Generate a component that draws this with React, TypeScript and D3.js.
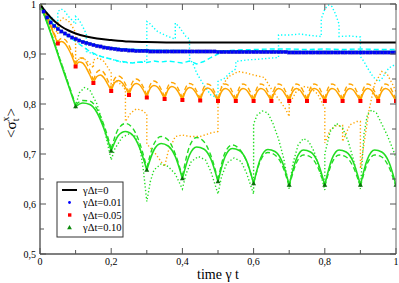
import React from "react";
import * as d3 from "d3";

const W = 399, H = 283;
const X0 = 40, X1 = 396, Y0 = 254, Y1 = 4;

// ---------- axes ----------
const xTicks = [0, 0.2, 0.4, 0.6, 0.8, 1];
const xTickLabels = ["0", "0,2", "0,4", "0,6", "0,8", "1"];
const xMinor = [0.1, 0.3, 0.5, 0.7, 0.9];
const yTicks = [0.5, 0.6, 0.7, 0.8, 0.9, 1];
const yTickLabels = ["0,5", "0,6", "0,7", "0,8", "0,9", "1"];
const yMinor = [0.55, 0.65, 0.75, 0.85, 0.95];
const legendLabels = ["γΔt=0", "γΔt=0.01", "γΔt=0.05", "γΔt=0.10"];

// ---------- γΔt = 0 (black) ----------
const blackT = [0, 0.01, 0.02, 0.03, 0.04, 0.06, 0.08, 0.1, 0.13, 0.16, 0.2, 0.25, 0.3, 0.4, 0.6, 0.8, 1];
const blackV = [1, 0.99, 0.981, 0.973, 0.966, 0.955, 0.947, 0.941, 0.935, 0.931, 0.928, 0.925, 0.924, 0.923, 0.923, 0.923, 0.923];

// ---------- γΔt = 0.01 (blue points, cyan lines) ----------
const blueV = [
  1.0, 0.985, 0.973, 0.963, 0.956, 0.95, 0.945, 0.941, 0.937, 0.933,
  0.93, 0.927, 0.924, 0.922, 0.92, 0.918, 0.916, 0.915, 0.913, 0.912,
  0.911, 0.91, 0.909, 0.908, 0.908, 0.907, 0.907, 0.906, 0.906, 0.906,
  0.906, 0.905, 0.905, 0.905, 0.905, 0.905, 0.905, 0.905, 0.905, 0.905,
  0.905, 0.905, 0.905, 0.905, 0.905, 0.905, 0.905, 0.905, 0.905, 0.905,
  0.904, 0.904, 0.904, 0.904, 0.904, 0.904, 0.904, 0.904, 0.904, 0.904,
  0.904, 0.904, 0.904, 0.904, 0.904, 0.904, 0.904, 0.904, 0.904, 0.904,
  0.903, 0.903, 0.903, 0.903, 0.903, 0.903, 0.903, 0.903, 0.903, 0.903,
  0.903, 0.903, 0.903, 0.903, 0.903, 0.903, 0.903, 0.903, 0.903, 0.903,
  0.903, 0.903, 0.903, 0.903, 0.903, 0.903, 0.903, 0.903, 0.903, 0.903,
  0.903,
];
const cyanSolidT = [0, 0.02, 0.05, 0.1, 0.15, 0.2, 0.3, 0.4, 0.5, 0.6, 0.7, 0.8, 0.9, 1];
const cyanSolidV = [1, 0.974, 0.951, 0.931, 0.919, 0.912, 0.908, 0.907, 0.906, 0.906, 0.905, 0.905, 0.905, 0.905];
const cyanDashT = [0, 0.02, 0.04, 0.06, 0.08, 0.1, 0.12, 0.14, 0.16, 0.18, 0.2, 0.22, 0.24, 0.26, 0.28, 0.3, 0.32, 0.34, 0.36, 0.38, 0.4, 0.42, 0.44, 0.46, 0.48, 0.5, 0.52, 0.55, 0.6, 0.65, 0.7, 0.75, 0.8, 0.85, 0.9, 0.95, 1];
const cyanDashV = [1, 0.975, 0.958, 0.945, 0.935, 0.925, 0.915, 0.905, 0.898, 0.893, 0.89, 0.886, 0.884, 0.882, 0.884, 0.883, 0.886, 0.884, 0.886, 0.884, 0.882, 0.886, 0.88, 0.885, 0.893, 0.9, 0.906, 0.908, 0.909, 0.91, 0.91, 0.909, 0.91, 0.909, 0.91, 0.909, 0.909];
const cyanDotT = [0, 0.01, 0.02, 0.03, 0.04, 0.05, 0.05, 0.06, 0.07, 0.08, 0.09, 0.1, 0.1, 0.11, 0.12, 0.13, 0.13, 0.15, 0.17, 0.2, 0.22, 0.25, 0.28, 0.3, 0.3, 0.31, 0.32, 0.33, 0.35, 0.37, 0.38, 0.38, 0.39, 0.4, 0.41, 0.42, 0.42, 0.43, 0.44, 0.45, 0.46, 0.47, 0.48, 0.49, 0.5, 0.5, 0.52, 0.53, 0.55, 0.55, 0.58, 0.62, 0.65, 0.67, 0.67, 0.7, 0.73, 0.76, 0.79, 0.79, 0.8, 0.81, 0.82, 0.83, 0.84, 0.84, 0.87, 0.9, 0.9, 0.91, 0.92, 0.935, 0.95, 0.96, 0.97, 0.98, 1];
const cyanDotV = [1, 0.99, 0.982, 0.975, 0.968, 0.962, 0.985, 0.99, 0.985, 0.975, 0.968, 0.96, 0.975, 0.968, 0.955, 0.94, 0.905, 0.9, 0.895, 0.89, 0.885, 0.882, 0.884, 0.886, 0.965, 0.96, 0.952, 0.945, 0.938, 0.932, 0.93, 0.962, 0.955, 0.945, 0.935, 0.93, 0.892, 0.88, 0.862, 0.85, 0.838, 0.828, 0.818, 0.815, 0.82, 0.845, 0.852, 0.86, 0.87, 0.885, 0.888, 0.89, 0.892, 0.893, 0.938, 0.938, 0.94, 0.937, 0.935, 0.97, 0.99, 0.998, 0.995, 0.98, 0.96, 0.935, 0.936, 0.934, 0.895, 0.885, 0.872, 0.855, 0.845, 0.85, 0.862, 0.872, 0.88];

// ---------- γΔt = 0.05 (red markers, orange lines), sampled every 0.01 ----------
const redV = [1, 0.921, 0.875, 0.842, 0.826, 0.818, 0.813, 0.81, 0.808, 0.807, 0.806, 0.806, 0.806, 0.806, 0.806, 0.806, 0.806, 0.806, 0.806, 0.806, 0.806];
const orangeSolidV = [
  1, 0.986, 0.971, 0.955, 0.938, 0.921,
  0.925, 0.921, 0.91, 0.895, 0.875,
  0.884, 0.882, 0.872, 0.858, 0.842,
  0.855, 0.858, 0.852, 0.84, 0.826,
  0.843, 0.847, 0.843, 0.833, 0.818,
  0.836, 0.841, 0.838, 0.828, 0.813,
  0.832, 0.837, 0.834, 0.824, 0.81,
  0.829, 0.835, 0.832, 0.822, 0.808,
  0.827, 0.833, 0.83, 0.82, 0.807,
  0.826, 0.832, 0.829, 0.819, 0.806,
  0.825, 0.831, 0.828, 0.818, 0.806,
  0.825, 0.831, 0.828, 0.818, 0.806,
  0.825, 0.831, 0.828, 0.818, 0.806,
  0.825, 0.831, 0.828, 0.818, 0.806,
  0.825, 0.831, 0.828, 0.818, 0.806,
  0.825, 0.831, 0.828, 0.818, 0.806,
  0.825, 0.831, 0.828, 0.818, 0.806,
  0.825, 0.831, 0.828, 0.818, 0.806,
  0.825, 0.831, 0.828, 0.818, 0.806,
  0.825, 0.831, 0.828, 0.818, 0.806,
];
const orangeDashV = [
  1, 0.988, 0.974, 0.958, 0.941, 0.924,
  0.931, 0.929, 0.919, 0.902, 0.879,
  0.892, 0.892, 0.883, 0.867, 0.847,
  0.864, 0.868, 0.862, 0.848, 0.83,
  0.851, 0.856, 0.852, 0.84, 0.822,
  0.844, 0.85, 0.846, 0.834, 0.817,
  0.839, 0.846, 0.842, 0.83, 0.814,
  0.836, 0.843, 0.84, 0.828, 0.812,
  0.834, 0.841, 0.838, 0.826, 0.811,
  0.833, 0.84, 0.837, 0.825, 0.81,
  0.833, 0.84, 0.837, 0.825, 0.81,
  0.833, 0.84, 0.837, 0.825, 0.81,
  0.833, 0.84, 0.837, 0.825, 0.81,
  0.833, 0.84, 0.837, 0.825, 0.81,
  0.833, 0.84, 0.837, 0.825, 0.81,
  0.833, 0.84, 0.837, 0.825, 0.81,
  0.833, 0.84, 0.837, 0.825, 0.81,
  0.833, 0.84, 0.837, 0.825, 0.81,
  0.833, 0.84, 0.837, 0.825, 0.81,
  0.833, 0.84, 0.837, 0.825, 0.81,
];
const orangeDotT = [0, 0.02, 0.04, 0.05, 0.05, 0.065, 0.08, 0.09, 0.1, 0.1, 0.115, 0.13, 0.15, 0.15, 0.165, 0.18, 0.2, 0.2, 0.215, 0.23, 0.24, 0.24, 0.255, 0.27, 0.285, 0.3, 0.3, 0.32, 0.34, 0.35, 0.36, 0.38, 0.4, 0.42, 0.45, 0.48, 0.5, 0.5, 0.51, 0.53, 0.557, 0.58, 0.6, 0.63, 0.65, 0.67, 0.69, 0.7, 0.7, 0.72, 0.74, 0.76, 0.78, 0.8, 0.8, 0.815, 0.83, 0.85, 0.85, 0.87, 0.89, 0.9, 0.9, 0.91, 0.925, 0.94, 0.96, 0.975, 0.99, 1];
const orangeDotV = [1, 0.975, 0.952, 0.94, 0.962, 0.972, 0.966, 0.956, 0.943, 0.885, 0.892, 0.888, 0.872, 0.888, 0.892, 0.885, 0.862, 0.84, 0.845, 0.838, 0.828, 0.765, 0.782, 0.79, 0.788, 0.78, 0.72, 0.705, 0.685, 0.675, 0.705, 0.735, 0.738, 0.735, 0.735, 0.742, 0.745, 0.805, 0.835, 0.855, 0.865, 0.862, 0.858, 0.853, 0.83, 0.81, 0.79, 0.775, 0.8, 0.825, 0.835, 0.832, 0.82, 0.792, 0.722, 0.748, 0.756, 0.757, 0.725, 0.758, 0.765, 0.765, 0.671, 0.72, 0.79, 0.84, 0.865, 0.86, 0.84, 0.825];

// ---------- γΔt = 0.10 (green triangles, green lines), sampled every 0.02 ----------
const triV = [1, 0.795, 0.706, 0.668, 0.651, 0.645, 0.641, 0.638, 0.638, 0.638, 0.638];
const greenSolidV = [
  1, 0.962, 0.921, 0.878, 0.837, 0.795,
  0.802, 0.799, 0.783, 0.75, 0.706,
  0.737, 0.745, 0.738, 0.712, 0.668,
  0.708, 0.721, 0.716, 0.695, 0.651,
  0.698, 0.714, 0.71, 0.69, 0.645,
  0.695, 0.711, 0.707, 0.687, 0.641,
  0.692, 0.709, 0.705, 0.685, 0.638,
  0.69, 0.708, 0.704, 0.684, 0.638,
  0.69, 0.708, 0.704, 0.684, 0.638,
  0.69, 0.708, 0.704, 0.684, 0.638,
];
const greenDashV = [
  1, 0.963, 0.923, 0.881, 0.84, 0.798,
  0.807, 0.806, 0.79, 0.757, 0.71,
  0.75, 0.761, 0.752, 0.722, 0.672,
  0.72, 0.735, 0.728, 0.7, 0.655,
  0.715, 0.733, 0.725, 0.697, 0.648,
  0.703, 0.718, 0.71, 0.686, 0.642,
  0.688, 0.703, 0.698, 0.678, 0.635,
  0.682, 0.698, 0.694, 0.674, 0.635,
  0.682, 0.698, 0.694, 0.674, 0.635,
  0.682, 0.698, 0.694, 0.674, 0.635,
];
const greenDotT = [0, 0.02, 0.04, 0.06, 0.08, 0.1, 0.11, 0.125, 0.14, 0.16, 0.18, 0.2, 0.21, 0.23, 0.25, 0.265, 0.28, 0.29, 0.3, 0.31, 0.32, 0.34, 0.36, 0.38, 0.4, 0.41, 0.425, 0.445, 0.465, 0.48, 0.5, 0.51, 0.525, 0.545, 0.565, 0.58, 0.6, 0.6, 0.61, 0.625, 0.64, 0.655, 0.67, 0.685, 0.7, 0.71, 0.725, 0.74, 0.755, 0.77, 0.785, 0.8, 0.8, 0.815, 0.833, 0.85, 0.865, 0.88, 0.9, 0.91, 0.92, 0.932, 0.945, 0.96, 0.975, 0.99, 1];
const greenDotV = [1, 0.965, 0.925, 0.882, 0.84, 0.795, 0.822, 0.833, 0.828, 0.8, 0.752, 0.688, 0.71, 0.733, 0.74, 0.738, 0.715, 0.67, 0.605, 0.645, 0.668, 0.68, 0.675, 0.66, 0.63, 0.66, 0.685, 0.695, 0.688, 0.665, 0.62, 0.655, 0.682, 0.692, 0.685, 0.662, 0.62, 0.76, 0.778, 0.786, 0.782, 0.76, 0.73, 0.69, 0.63, 0.68, 0.718, 0.731, 0.725, 0.705, 0.67, 0.628, 0.7, 0.745, 0.761, 0.752, 0.727, 0.69, 0.63, 0.74, 0.78, 0.788, 0.782, 0.76, 0.738, 0.712, 0.692];

const grid = (n: number, step: number) => d3.range(n).map((i) => +(i * step).toFixed(4));

export default function App() {
  const x = d3.scaleLinear().domain([0, 1]).range([X0, X1]);
  const y = d3.scaleLinear().domain([0.5, 1]).range([Y0, Y1]);
  const mono = d3.line<[number, number]>().x((d) => x(d[0])).y((d) => y(d[1])).curve(d3.curveMonotoneX);
  const lin = d3.line<[number, number]>().x((d) => x(d[0])).y((d) => y(d[1]));
  const zip = (ts: number[], vs: number[]) => ts.map((t, i) => [t, vs[i]] as [number, number]);

  const blueT = grid(101, 0.01);
  const orangeT = grid(101, 0.01);
  const greenT = grid(51, 0.02);
  const redT = grid(21, 0.05);
  const triT = grid(11, 0.1);

  const arches = (ts: number[], vs: number[], per: number) => {
    const segs: string[] = [];
    for (let k = 0; k + per < ts.length; k += per) {
      segs.push(mono(zip(ts.slice(k, k + per + 1), vs.slice(k, k + per + 1))) as string);
    }
    return segs.join("");
  };

  const ORANGE = "#ffa500";
  const GREEN = "#22dd22";
  const CYAN = "#00ffff";
  const DOT = "1.3 2.2";
  const DASH = "5 3";
  const serif = "'Liberation Serif', 'Times New Roman', serif";

  const tri = (cx: number, cy: number, s: number) =>
    `M${cx},${cy - s}L${cx + s * 0.95},${cy + s * 0.65}L${cx - s * 0.95},${cy + s * 0.65}Z`;

  const legY = [190, 202.5, 215, 227.5];

  return (
    <svg width={W} height={H} style={{ position: "absolute", left: 0, top: 0, background: "#fff" }}>
      <defs>
        <clipPath id="plot">
          <rect x={X0} y={Y1} width={X1 - X0} height={Y0 - Y1} />
        </clipPath>
      </defs>
      <g clipPath="url(#plot)" fill="none">
        <path d={lin(zip(cyanDotT, cyanDotV)) as string} stroke={CYAN} strokeWidth={1.4} strokeDasharray={DOT} />
        <path d={lin(zip(cyanDashT, cyanDashV)) as string} stroke={CYAN} strokeWidth={1.4} strokeDasharray={DASH} />
        <path d={mono(zip(cyanSolidT, cyanSolidV)) as string} stroke={CYAN} strokeWidth={1.4} />
        <path d={lin(zip(orangeDotT, orangeDotV)) as string} stroke={ORANGE} strokeWidth={1.4} strokeDasharray={DOT} />
        <path d={arches(orangeT, orangeDashV, 5)} stroke={ORANGE} strokeWidth={1.4} strokeDasharray={DASH} />
        <path d={arches(orangeT, orangeSolidV, 5)} stroke={ORANGE} strokeWidth={1.5} />
        <path d={lin(zip(greenDotT, greenDotV)) as string} stroke={GREEN} strokeWidth={1.4} strokeDasharray={DOT} />
        <path d={arches(greenT, greenDashV, 5)} stroke={GREEN} strokeWidth={1.4} strokeDasharray={DASH} />
        <path d={arches(greenT, greenSolidV, 5)} stroke={GREEN} strokeWidth={1.6} />
        <path d={mono(zip(blackT, blackV)) as string} stroke="#000" strokeWidth={2} />
        {blueT.map((t, i) => (
          <rect key={"b" + i} x={x(t) - 1.6} y={y(blueV[i]) - 1.6} width={3.2} height={3.2} fill="#0000ff" stroke="#0000aa" strokeWidth={0.4} />
        ))}
        {redT.map((t, i) => (
          <rect key={"r" + i} x={x(t) - 2} y={y(redV[i]) - 2} width={4} height={4} fill="#ff0000" />
        ))}
        {triT.map((t, i) => (
          <path key={"g" + i} d={tri(x(t), y(triV[i]), 2.6)} fill="#0b6e0b" />
        ))}
      </g>

      {/* frame */}
      <line x1={X0} x2={X1} y1={Y1} y2={Y1} stroke="#555" strokeWidth={1} />
      <line x1={X1} x2={X1} y1={Y1} y2={Y0} stroke="#666" strokeWidth={1} />
      <line x1={X0} x2={X0} y1={Y1} y2={Y0} stroke="#888" strokeWidth={2} />
      <line x1={X0} x2={X1} y1={Y0} y2={Y0} stroke="#000" strokeWidth={1.2} />

      {/* ticks */}
      <g stroke="#555" strokeWidth={1}>
        {xTicks.map((t) => (
          <g key={"xt" + t}>
            <line x1={x(t)} x2={x(t)} y1={Y0} y2={Y0 - 6} />
            <line x1={x(t)} x2={x(t)} y1={Y1} y2={Y1 + 6} />
          </g>
        ))}
        {xMinor.map((t) => (
          <g key={"xm" + t}>
            <line x1={x(t)} x2={x(t)} y1={Y0} y2={Y0 - 4} />
            <line x1={x(t)} x2={x(t)} y1={Y1} y2={Y1 + 4} />
          </g>
        ))}
        {yTicks.map((v) => (
          <g key={"yt" + v}>
            <line x1={X0} x2={X0 + 6} y1={y(v)} y2={y(v)} />
            <line x1={X1} x2={X1 - 6} y1={y(v)} y2={y(v)} />
          </g>
        ))}
        {yMinor.map((v) => (
          <g key={"ym" + v}>
            <line x1={X0} x2={X0 + 4} y1={y(v)} y2={y(v)} />
            <line x1={X1} x2={X1 - 4} y1={y(v)} y2={y(v)} />
          </g>
        ))}
      </g>

      {/* tick labels */}
      <g style={{ fontFamily: serif }} fontSize={10} fill="#000">
        {xTicks.map((t, i) => (
          <text key={"xl" + t} x={x(t)} y={Y0 + 11} textAnchor="middle">
            {xTickLabels[i]}
          </text>
        ))}
        {yTicks.map((v, i) => (
          <text key={"yl" + v} x={X0 - 4} y={y(v) + 3.5} textAnchor="end">
            {yTickLabels[i]}
          </text>
        ))}
      </g>

      {/* axis titles */}
      <text x={x(0.5)} y={279} textAnchor="middle" style={{ fontFamily: serif }} fontSize={14}>
        time γ t
      </text>
      <text transform="translate(16,123) rotate(-90)" textAnchor="middle" style={{ fontFamily: serif }} fontSize={15}>
        {"<σ"}
        <tspan fontSize={10} dy={3}>t</tspan>
        <tspan fontSize={10} dx={-3} dy={-10}>x</tspan>
        <tspan dy={7}>{">"}</tspan>
      </text>

      {/* legend */}
      <rect x={57} y={182} width={66} height={55} fill="#fff" stroke="#333" strokeWidth={1} />
      <line x1={62} x2={77} y1={legY[0]} y2={legY[0]} stroke="#000" strokeWidth={2} />
      <circle cx={69.5} cy={legY[1]} r={1.4} fill="#0000ff" />
      <rect x={68} y={legY[2] - 1.7} width={3.4} height={3.4} fill="#ff0000" />
      <path d={tri(69.5, legY[3], 2.5)} fill="#0b8a0b" />
      <g style={{ fontFamily: serif }} fontSize={10.5} fill="#000">
        {legendLabels.map((l, i) => (
          <text key={l} x={83} y={legY[i] + 3.5}>
            {l}
          </text>
        ))}
      </g>
    </svg>
  );
}
